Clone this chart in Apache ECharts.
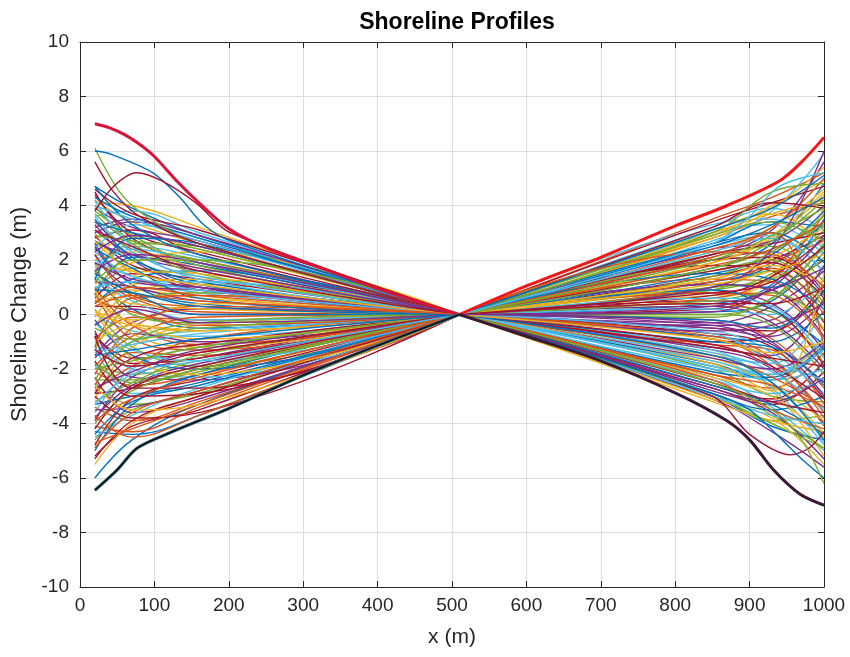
<!DOCTYPE html>
<html>
<head>
<meta charset="utf-8">
<script src="https://cdn.jsdelivr.net/npm/echarts@6/dist/echarts.min.js"></script>
<style>html,body{margin:0;padding:0;background:#fff}#c{width:850px;height:657px}</style>
</head>
<body>
<div id="c"></div>
<script>
// ---- data ----
const xTicks = [0, 100, 200, 300, 400, 500, 600, 700, 800, 900, 1000];
const yTicks = [-10, -8, -6, -4, -2, 0, 2, 4, 6, 8, 10];
const palette = ['#0072BD', '#D95319', '#EDB120', '#7E2F8E', '#77AC30', '#4DBEEE', '#A2142F'];

// sample positions of each profile, west half and east half
const xsLeft = [20, 70, 160, 510];
const xsRight = [510, 850, 930, 1000];

// shoreline change (m) at xsLeft
const profilesLeft = [
  [4.7, 3.9, 2.9, 0], [-2.1, -2.6, -2.2, 0], [0.5, 0.9, 0.6, 0], [3.1, 2.2, 1.6, 0], [-4.6, -3.5, -2.9, 0],
  [1.8, 2.5, 2.1, 0], [-0.8, -1.6, -1.4, 0], [2.6, 1.1, 0.4, 0], [-3.4, -3.9, -3.2, 0], [4.2, 3.4, 2.6, 0],
  [-1.5, -0.3, 0.2, 0], [0.2, -1.2, -1.9, 0], [3.6, 3.8, 3.0, 0], [-5.2, -4.1, -3.5, 0], [1.3, 0.2, -0.5, 0],
  [-2.8, -1.9, -0.9, 0], [2.1, 2.9, 2.4, 0], [-3.9, -2.3, -1.6, 0], [0.9, 1.7, 1.4, 0], [-1.1, -2.9, -2.6, 0],
  [4.5, 2.8, 1.9, 0], [-4.3, -4.4, -3.7, 0], [1.6, 0.6, 0.1, 0], [-0.4, 0.8, 1.1, 0], [3.3, 2.0, 1.0, 0],
  [-2.5, -3.3, -2.8, 0], [0.0, -0.6, -0.8, 0], [2.8, 3.1, 2.2, 0], [-6.0, -4.6, -3.3, 0], [1.0, -0.4, -1.1, 0],
  [-3.1, -1.2, -0.4, 0], [3.9, 3.2, 2.7, 0], [-1.8, -2.2, -1.7, 0], [2.3, 1.4, 0.8, 0], [-4.8, -3.1, -2.4, 0],
  [0.7, 2.1, 1.8, 0], [-0.9, -0.1, -0.2, 0], [4.1, 4.0, 3.2, 0], [-2.3, -3.6, -3.1, 0], [1.9, 0.0, -0.3, 0],
  [-3.6, -2.0, -1.2, 0], [2.9, 1.8, 1.3, 0], [-0.2, -1.5, -2.0, 0], [3.4, 2.4, 2.0, 0], [-5.5, -4.0, -3.0, 0],
  [1.2, 1.0, 0.5, 0], [-1.3, 0.4, 0.8, 0], [2.4, 3.3, 2.8, 0], [-2.9, -2.7, -2.0, 0], [0.4, 1.3, 1.6, 0],
  [-4.1, -4.3, -3.4, 0], [3.0, 1.5, 0.7, 0], [-0.6, -2.3, -2.4, 0], [1.5, 2.6, 2.5, 0], [-2.0, -1.0, -0.6, 0],
  [4.4, 3.0, 2.3, 0], [-3.3, -3.0, -2.5, 0], [0.8, -0.9, -1.3, 0], [2.0, 2.3, 1.7, 0], [-1.6, -0.7, -1.0, 0],
  [3.7, 2.6, 1.5, 0], [-4.5, -3.7, -2.7, 0], [0.3, 0.3, 0.0, 0], [2.7, 2.0, 1.2, 0], [-2.6, -1.4, -1.5, 0],
  [1.1, 1.9, 2.3, 0], [-3.8, -2.6, -1.8, 0], [4.0, 2.7, 2.0, 0], [-1.0, -2.0, -2.3, 0], [0.6, 1.5, 0.9, 0],
  [-5.0, -3.3, -2.2, 0], [2.2, 0.7, 0.3, 0], [-0.1, 1.1, 1.3, 0], [3.2, 3.5, 2.6, 0], [-2.4, -2.4, -1.9, 0],
  [1.4, 0.5, -0.2, 0], [-3.0, -3.8, -3.6, 0], [4.3, 3.6, 2.8, 0], [-1.9, -0.8, -0.1, 0], [0.1, -0.2, 0.4, 0],
  [2.5, 1.2, 1.0, 0], [-4.0, -2.8, -2.1, 0], [1.7, 2.4, 1.9, 0], [-0.7, -1.8, -1.6, 0], [3.5, 2.1, 1.1, 0],
  [-2.2, -0.5, 0.3, 0], [0.9, -0.7, -1.2, 0], [-3.5, -3.4, -2.8, 0], [2.9, 2.7, 2.4, 0], [-1.4, -1.1, -0.7, 0],
  [4.6, 3.7, 3.1, 0], [-4.4, -3.2, -2.6, 0], [0.5, 0.1, -0.4, 0], [1.8, 1.6, 1.5, 0], [-2.7, -2.1, -1.3, 0],
  [3.8, 2.9, 1.8, 0], [-0.3, -1.3, -1.7, 0], [-5.3, -3.9, -3.0, 0], [2.4, 1.7, 0.6, 0], [-1.2, 0.6, 0.7, 0],
  [0.2, -1.6, -2.2, 0], [3.0, 3.4, 2.9, 0], [-3.2, -2.5, -1.5, 0], [1.0, 1.2, 1.2, 0], [-1.7, -3.0, -2.9, 0],
  [4.7, 3.3, 2.2, 0], [-4.7, -4.2, -3.3, 0], [0.7, 0.4, 0.2, 0], [2.2, 1.0, 0.9, 0], [-0.5, -0.9, -0.5, 0],
  [3.6, 2.3, 1.4, 0], [-2.9, -1.6, -1.1, 0], [1.3, 2.8, 2.6, 0], [-3.7, -4.5, -3.7, 0], [0.0, -0.4, -0.9, 0],
  [2.6, 2.2, 1.7, 0], [-1.8, -2.5, -2.0, 0], [4.2, 2.5, 1.3, 0], [-4.2, -2.7, -1.9, 0], [1.5, 0.8, 0.0, 0],
  [0.3, 0.7, 0.5, 0], [-1.0, -0.4, -0.6, 0], [1.9, 1.3, 1.0, 0], [-2.0, -1.7, -1.2, 0],
  [2.0, 1.4, 0.9, 0], [-0.8, -2.7, -2.7, 0], [3.4, 3.0, 2.5, 0], [-3.9, -3.1, -2.3, 0], [0.6, -0.3, -0.6, 0],
  [1.6, 2.2, 1.9, 0], [-2.4, -1.0, -0.3, 0], [4.0, 3.5, 2.7, 0], [-1.3, -1.9, -1.4, 0], [0.9, 0.8, 0.3, 0],
  [-4.9, -3.6, -2.8, 0], [2.7, 1.6, 1.1, 0], [-0.4, 0.2, -0.3, 0], [1.2, 2.0, 2.0, 0], [-3.3, -2.2, -1.7, 0],
  [3.1, 2.5, 1.6, 0], [-1.5, -1.3, -0.9, 0], [0.4, 1.0, 0.7, 0], [-2.6, -3.5, -3.3, 0], [2.3, 2.9, 2.5, 0]
];

// shoreline change (m) at xsRight
const profilesRight = [
  [0, 1.2, 1.8, 3.4], [0, 2.8, 3.6, 4.1], [0, -1.9, -2.6, -4.4], [0, -0.4, -0.2, 1.8], [0, 0.9, 1.6, 0.3],
  [0, 3.2, 3.9, 3.1], [0, -2.7, -3.3, -2.1], [0, 1.7, 2.6, 4.8], [0, -0.9, -1.7, -3.6], [0, -1.4, -2.2, -1.0],
  [0, 2.2, 3.1, 5.6], [0, 0.3, 0.1, -1.8], [0, -2.3, -3.4, -5.0], [0, 1.4, 2.0, 2.9], [0, -3.0, -4.1, -4.6],
  [0, 3.5, 4.3, 5.2], [0, 0.6, 1.3, 3.9], [0, -1.2, -1.5, 0.6], [0, -2.0, -3.0, -3.2], [0, 2.5, 2.9, 1.5],
  [0, -0.7, -1.2, -3.1], [0, 0.1, 0.5, 2.3], [0, 1.0, 1.9, 2.7], [0, -1.6, -2.8, -5.2], [0, 2.0, 2.3, 0.8],
  [0, -2.5, -3.7, -4.9], [0, 3.0, 3.3, 2.2], [0, -1.0, -0.7, 1.1], [0, 0.4, 1.1, 3.5], [0, -0.2, -0.9, -2.7],
  [0, 1.9, 2.8, 4.4], [0, 0.8, 0.4, -1.3], [0, -2.9, -3.9, -3.7], [0, 2.7, 3.8, 5.9], [0, -0.5, -0.6, 0.9],
  [0, -1.8, -2.4, -1.2], [0, 1.3, 1.2, -0.6], [0, 2.3, 3.2, 4.6], [0, -1.3, -2.0, -4.0], [0, 0.0, -0.4, -2.2],
  [0, 3.3, 3.5, 2.4], [0, -2.6, -3.1, -1.7], [0, 1.5, 2.2, 3.8], [0, -0.9, -1.9, -4.1], [0, 0.7, 0.8, -0.5],
  [0, -3.1, -4.3, -5.6], [0, 2.1, 2.5, 1.2], [0, -1.5, -1.8, 0.2], [0, 0.2, 0.9, 2.0], [0, 1.1, 1.0, 2.6],
  [0, -2.2, -2.7, -1.4], [0, 2.9, 4.0, 4.9], [0, -0.3, 0.3, 1.6], [0, 1.6, 2.0, 0.4], [0, -1.9, -2.5, -4.7],
  [0, 0.5, 0.2, -1.9], [0, 2.6, 3.4, 3.2], [0, -1.1, -1.3, -3.3], [0, 3.1, 3.7, 2.5], [0, -2.8, -3.6, -5.3],
  [0, 0.9, 1.5, 3.1], [0, -0.6, -1.4, -2.9], [0, 1.8, 1.6, -0.3], [0, -2.1, -2.3, -1.1], [0, 0.6, 1.4, 3.7],
  [0, -1.7, -2.6, -3.9], [0, 2.4, 2.7, 4.0], [0, -0.1, 0.6, 2.1], [0, -2.4, -2.9, -2.4], [0, 3.4, 4.1, 4.7],
  [0, -0.8, -1.0, 0.1], [0, 1.2, 1.7, 0.0], [0, -3.2, -3.9, -4.3], [0, 0.3, -0.3, -2.0], [0, 1.7, 2.4, 3.3],
  [0, -1.4, -2.1, -3.5], [0, 2.0, 2.1, 0.7], [0, -2.6, -3.3, -4.4], [0, 0.4, -0.1, -1.5], [0, 2.8, 3.9, 5.4],
  [0, -0.5, -0.8, 0.5], [0, 1.0, 1.3, 2.4], [0, -1.3, -2.7, -4.8], [0, 2.2, 2.6, 3.0], [0, -2.9, -3.5, -3.0],
  [0, 0.8, 0.7, -0.9], [0, 3.0, 3.7, 4.2], [0, -0.4, -1.1, -2.5], [0, 1.4, 2.3, 3.6], [0, -2.0, -2.2, -0.8],
  [0, 0.7, 1.4, 2.8], [0, 2.6, 3.0, 1.9], [0, -0.8, -1.6, -3.8], [0, 1.9, 2.9, 4.5], [0, -1.6, -2.0, -1.0],
  [0, -3.0, -4.0, -4.9], [0, 0.2, 0.0, 1.3], [0, 1.6, 1.9, 0.6], [0, -1.0, -1.2, -2.6], [0, 2.4, 3.2, 5.0],
  [0, -2.3, -3.0, -4.5], [0, 1.1, 0.9, -0.8], [0, 0.0, 0.6, 2.6], [0, -1.9, -2.4, -2.0], [0, 3.2, 4.1, 3.9],
  [0, -0.2, -0.5, 0.9], [0, -1.5, -2.3, -3.4], [0, 1.3, 2.1, 3.2], [0, -2.7, -3.2, -2.3], [0, 0.5, 0.8, -0.2],
  [0, 2.3, 2.8, 1.6], [0, -1.1, -1.9, -3.1], [0, 0.9, 0.2, -1.1], [0, 1.8, 2.4, 3.4], [0, -3.1, -3.8, -5.5],
  [0, 0.1, 1.0, 2.9], [0, 2.9, 3.4, 2.7], [0, -0.7, -1.7, -2.4], [0, -2.5, -3.2, -3.6], [0, 1.5, 1.3, 0.2],
  [0, 2.1, 3.0, -1.2], [0, -1.8, -2.8, 1.5], [0, 1.0, 2.4, 6.0], [0, 3.0, 4.5, 4.8],
  [0, 0.6, 0.3, -1.6], [0, -1.2, -1.6, -1.9], [0, 2.5, 3.3, 4.3], [0, -2.4, -3.5, -4.2], [0, 1.3, 1.8, 1.1],
  [0, -0.3, -1.0, -3.0], [0, 2.0, 2.9, 3.9], [0, -1.7, -2.2, -1.3], [0, 0.4, 0.4, 1.0], [0, 3.1, 3.9, 5.1],
  [0, -2.2, -2.6, -3.4], [0, 1.1, 1.6, 2.2], [0, -0.6, -0.4, 0.4], [0, 1.7, 2.7, 4.2], [0, -3.0, -3.7, -4.0],
  [0, 0.8, 1.2, 2.5], [0, -1.5, -2.5, -4.6], [0, 2.3, 2.2, 1.0], [0, -0.9, -1.4, -1.0], [0, 0.3, 0.9, 1.7]
];

// individually traced outlying profiles
const outlierGreenWest = [[20, 6.1], [56, 4.4], [100, 3.4], [160, 2.6], [510, 0]];
const outlierBlueWest = [[20, 6.0], [40, 5.9], [98, 5.2], [134, 4.3], [166, 3.3], [202, 2.7], [510, 0]];
const outlierRedWest = [[20, 5.6], [45, 4.5], [80, 3.6], [160, 2.6], [510, 0]];
const outlierArcWest = [[20, 3.8], [45, 4.7], [76, 5.2], [110, 4.9], [157, 4.07], [202, 3.0], [510, 0]];
const outlierRedEast = [[510, 0], [850, -3.0], [900, -4.4], [955, -5.15], [980, -4.9], [1000, -4.3]];
const outlierBlueEast = [[510, 0], [850, -2.9], [900, -3.5], [940, -4.5], [970, -5.3], [1000, -6.0]];
const outlierGreenEast = [[510, 0], [850, -2.5], [930, -3.5], [970, -4.6], [1000, -6.2]];
const outlierCyanEast = [[510, 0], [850, 2.6], [900, 3.6], [940, 4.7], [1000, 5.2]];

// envelope profiles (thick)
const upperWest = [[20, 7.0], [40, 6.85], [60, 6.6], [80, 6.25], [100, 5.8], [130, 4.9], [160, 4.1], [200, 3.15], [250, 2.45], [322, 1.73], [400, 0.95], [510, 0]];
const upperEast = [[510, 0], [600, 1.05], [700, 2.1], [800, 3.25], [870, 4.0], [940, 4.9], [970, 5.6], [1000, 6.5]];
const lowerWest = [[20, -6.45], [50, -5.7], [77, -4.9], [120, -4.35], [200, -3.45], [320, -2.0], [510, 0]];
const lowerEast = [[510, 0], [600, -0.8], [699, -1.69], [802, -2.9], [869, -3.89], [900, -4.6], [932, -5.7], [968, -6.6], [1000, -7.0]];

// ---- chart ----
const FONT = 'Liberation Sans, Arial, Helvetica, sans-serif';
const AX = '#262626';
const LW = 1.4;
const series = [];
function addLine(data, color, width, smooth, z) {
  series.push({
    type: 'line', data: data, showSymbol: false, symbol: 'none', smooth: smooth,
    lineStyle: { color: color, width: width }, silent: true, z: z || 2, animation: false
  });
}
profilesLeft.forEach(function (row, i) {
  addLine(xsLeft.map(function (x, j) { return [x, row[j]]; }), palette[i % 7], LW, 0.4);
});
profilesRight.forEach(function (row, i) {
  addLine(xsRight.map(function (x, j) { return [x, row[j]]; }), palette[i % 7], LW, 0.4);
});
addLine(outlierGreenWest, '#77AC30', LW, 0.3);
addLine(outlierBlueWest, '#0072BD', LW, 0.3);
addLine(outlierRedWest, '#A2142F', LW, 0.3);
addLine(outlierArcWest, '#A2142F', LW, 0.3);
addLine(outlierRedEast, '#A2142F', LW, 0.3);
addLine(outlierBlueEast, '#0072BD', LW, 0.3);
addLine(outlierGreenEast, '#77AC30', LW, 0.3);
addLine(outlierCyanEast, '#4DBEEE', LW, 0.3);
addLine(upperWest, '#D8143A', 3, 0.3, 5);
addLine(upperEast, '#F21818', 3, 0.3, 5);
addLine(lowerWest, '#2F6E86', 3.2, 0.3, 5);
addLine(lowerWest, '#111111', 1.6, 0.3, 6);
addLine(lowerEast, '#3A1838', 3, 0.3, 5);

const chart = echarts.init(document.getElementById('c'), null, { renderer: 'canvas' });
const axisCommon = {
  axisLine: { show: true, onZero: false, lineStyle: { color: AX, width: 1 } },
  axisTick: { show: true, inside: true, length: 6, lineStyle: { color: AX, width: 1 } }
};
const plainNum = function (v) { return String(v); };
chart.setOption({
  animation: false,
  backgroundColor: '#ffffff',
  title: {
    text: 'Shoreline Profiles', left: 452, top: 6, textAlign: 'center',
    textStyle: { fontFamily: FONT, fontSize: 23, fontWeight: 'bold', color: '#000' }
  },
  grid: { left: 80, right: 26, top: 42, bottom: 70, containLabel: false },
  xAxis: [
    Object.assign({
      type: 'value', min: xTicks[0], max: xTicks[xTicks.length - 1], interval: 100, position: 'bottom',
      axisLabel: { color: AX, fontSize: 19, fontFamily: FONT, margin: 9, formatter: plainNum },
      splitLine: { show: true, lineStyle: { color: '#dedede', width: 1 } },
      name: 'x (m)', nameLocation: 'middle', nameGap: 40,
      nameTextStyle: { color: AX, fontSize: 21, fontFamily: FONT }
    }, axisCommon),
    Object.assign({
      type: 'value', min: xTicks[0], max: xTicks[xTicks.length - 1], interval: 100, position: 'top',
      axisLabel: { show: false }, splitLine: { show: false }
    }, axisCommon)
  ],
  yAxis: [
    Object.assign({
      type: 'value', min: yTicks[0], max: yTicks[yTicks.length - 1], interval: 2, position: 'left',
      axisLabel: { color: AX, fontSize: 19, fontFamily: FONT, margin: 11, formatter: plainNum },
      splitLine: { show: true, lineStyle: { color: '#dedede', width: 1 } },
      name: 'Shoreline Change (m)', nameLocation: 'middle', nameGap: 48,
      nameTextStyle: { color: AX, fontSize: 22, fontFamily: FONT }
    }, axisCommon),
    Object.assign({
      type: 'value', min: yTicks[0], max: yTicks[yTicks.length - 1], interval: 2, position: 'right',
      axisLabel: { show: false }, splitLine: { show: false }
    }, axisCommon)
  ],
  series: series
});
</script>
</body>
</html>
